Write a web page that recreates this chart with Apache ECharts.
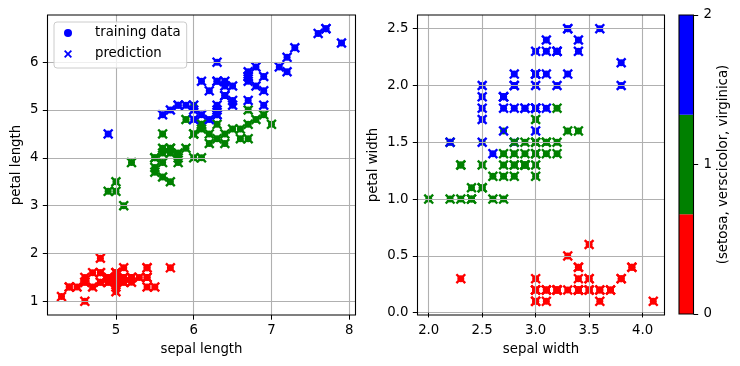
<!DOCTYPE html>
<html><head><meta charset="utf-8">
<script src="https://cdn.jsdelivr.net/npm/echarts@6/dist/echarts.min.js"></script>
<style>html,body{margin:0;padding:0;background:#fff}#c{width:740px;height:366px}</style>
</head><body><div id="c"></div><script>
const classNames = ['setosa', 'verscicolor', 'virginica'];
const classColors = ['#ff0000', '#008000', '#0000ff'];
// rows: [sepal length, sepal width, petal length, petal width, predicted class]
const virginicaEarly = [[6.3,2.8,5.1,1.5,2]];
const setosaRows = [
 [5.1,3.5,1.4,0.2,0],[4.9,3.0,1.4,0.2,0],[4.7,3.2,1.3,0.2,0],[4.6,3.1,1.5,0.2,0],[5.0,3.6,1.4,0.2,0],
 [5.4,3.9,1.7,0.4,0],[4.6,3.4,1.4,0.3,0],[5.0,3.4,1.5,0.2,0],[4.9,3.1,1.5,0.1,0],[5.4,3.7,1.5,0.2,0],
 [4.8,3.4,1.6,0.2,0],[4.8,3.0,1.4,0.1,0],[4.3,3.0,1.1,0.1,0],[5.4,3.9,1.3,0.4,0],[5.1,3.5,1.4,0.3,0],
 [5.7,3.8,1.7,0.3,0],[5.1,3.8,1.5,0.3,0],[5.4,3.4,1.7,0.2,0],[4.6,3.6,1.0,0.2,0],[5.1,3.3,1.7,0.5,0],
 [4.8,3.4,1.9,0.2,0],[5.0,3.0,1.6,0.2,0],[5.0,3.4,1.6,0.4,0],[5.2,3.5,1.5,0.2,0],[5.2,3.4,1.4,0.2,0],
 [4.7,3.2,1.6,0.2,0],[4.8,3.1,1.6,0.2,0],[5.4,3.4,1.5,0.4,0],[5.2,4.1,1.5,0.1,0],[4.9,3.1,1.5,0.2,0],
 [5.0,3.2,1.2,0.2,0],[5.5,3.5,1.3,0.2,0],[4.9,3.6,1.4,0.1,0],[4.4,3.0,1.3,0.2,0],[5.1,3.4,1.5,0.2,0],
 [5.0,3.5,1.3,0.3,0],[4.5,2.3,1.3,0.3,0],[4.4,3.2,1.3,0.2,0],[5.0,3.5,1.6,0.6,0],[4.8,3.0,1.4,0.3,0],
 [4.6,3.2,1.4,0.2,0],[5.3,3.7,1.5,0.2,0],[5.0,3.3,1.4,0.2,0]
];
const versicolorRows = [
 [7.0,3.2,4.7,1.4,1],[6.4,3.2,4.5,1.5,1],[6.9,3.1,4.9,1.5,1],[5.5,2.3,4.0,1.3,1],[6.5,2.8,4.6,1.5,1],
 [6.3,3.3,4.7,1.6,1],[4.9,2.4,3.3,1.0,1],[6.6,2.9,4.6,1.3,1],[5.2,2.7,3.9,1.4,1],[5.0,2.0,3.5,1.0,1],
 [5.9,3.0,4.2,1.5,1],[6.0,2.2,4.0,1.0,1],[6.1,2.9,4.7,1.4,1],[5.6,2.9,3.6,1.3,1],[6.7,3.1,4.4,1.4,1],
 [5.6,3.0,4.5,1.5,1],[5.8,2.7,4.1,1.0,1],[6.2,2.2,4.5,1.5,1],[5.6,2.5,3.9,1.1,1],[5.9,3.2,4.8,1.8,1],
 [6.1,2.8,4.0,1.3,1],[6.3,2.5,4.9,1.5,2],[6.1,2.8,4.7,1.2,1],[6.4,2.9,4.3,1.3,1],[6.6,3.0,4.4,1.4,1],
 [6.8,2.8,4.8,1.4,1],[6.7,3.0,5.0,1.7,1],[6.0,2.9,4.5,1.5,1],[5.7,2.6,3.5,1.0,1],[5.5,2.4,3.8,1.1,1],
 [5.5,2.4,3.7,1.0,1],[5.8,2.7,3.9,1.2,1],[6.0,2.7,5.1,1.6,2],[6.0,3.4,4.5,1.6,1],[6.7,3.1,4.7,1.5,1],
 [6.3,2.3,4.4,1.3,1],[5.6,3.0,4.1,1.3,1],[5.5,2.5,4.0,1.3,1],[6.1,3.0,4.6,1.4,1],[5.8,2.6,4.0,1.2,1],
 [5.0,2.3,3.3,1.0,1],[5.6,2.7,4.2,1.3,1],[5.7,3.0,4.2,1.2,1],[5.7,2.9,4.2,1.3,1],[6.2,2.9,4.3,1.3,1],
 [5.1,2.5,3.0,1.1,1],[5.7,2.8,4.1,1.3,1]
];
const virginicaRows = [
 [6.3,3.3,6.0,2.5,2],[5.8,2.7,5.1,1.9,2],[7.1,3.0,5.9,2.1,2],[6.3,2.9,5.6,1.8,2],[7.6,3.0,6.6,2.1,2],
 [4.9,2.5,4.5,1.7,2],[7.3,2.9,6.3,1.8,2],[6.7,2.5,5.8,1.8,2],[7.2,3.6,6.1,2.5,2],[6.5,3.2,5.1,2.0,2],
 [6.4,2.7,5.3,1.9,2],[6.8,3.0,5.5,2.1,2],[5.7,2.5,5.0,2.0,2],[6.4,3.2,5.3,2.3,2],[6.5,3.0,5.5,1.8,2],
 [7.7,3.8,6.7,2.2,2],[6.0,2.2,5.0,1.5,2],[6.9,3.2,5.7,2.3,2],[5.6,2.8,4.9,2.0,2],[7.7,2.8,6.7,2.0,2],
 [6.3,2.7,4.9,1.8,2],[6.7,3.3,5.7,2.1,2],[6.2,2.8,4.8,1.8,2],[6.1,3.0,4.9,1.8,2],[6.4,2.8,5.6,2.1,2],
 [7.2,3.0,5.8,1.6,2],[7.9,3.8,6.4,2.0,2],[6.1,2.6,5.6,1.4,2],[6.3,3.4,5.6,2.4,2],[6.4,3.1,5.5,1.8,2],
 [6.0,3.0,4.8,1.8,2],[6.9,3.1,5.4,2.1,2],[6.7,3.1,5.6,2.4,2],[6.9,3.1,5.1,2.3,2],[5.8,2.7,5.1,1.9,2],
 [6.8,3.2,5.9,2.3,2],[6.7,3.3,5.7,2.5,2],[6.7,3.0,5.2,2.3,2],[6.3,2.5,5.0,1.9,2],[6.5,3.0,5.2,2.0,2],
 [6.2,3.4,5.4,2.3,2],[5.9,3.0,5.1,1.8,2]
];
const xTicksLeft = [5, 6, 7, 8];
const yTicksLeft = [1, 2, 3, 4, 5, 6];
const xTicksRight = [2.0, 2.5, 3.0, 3.5, 4.0];
const yTicksRight = [0.0, 0.5, 1.0, 1.5, 2.0, 2.5];
const cbTicks = [0, 1, 2];
const cbBounds = [0, 2/3, 4/3, 2];

const samples = [];
virginicaEarly.forEach(r => samples.push({r, c: 2}));
setosaRows.forEach(r => samples.push({r, c: 0}));
versicolorRows.forEach(r => samples.push({r, c: 1}));
virginicaRows.forEach(r => samples.push({r, c: 2}));

const FONT = 'DejaVu Sans';
const FS = 13.3;
const XPATH = 'path://M0,1.6L1.6,0L5,3.4L8.4,0L10,1.6L6.6,5L10,8.4L8.4,10L5,6.6L1.6,10L0,8.4L3.4,5Z';

function dots(ix, iy, xi, yi) {
  return {
    name: 'training data', type: 'scatter', xAxisIndex: xi, yAxisIndex: yi,
    symbol: 'circle', symbolSize: 7, itemStyle: {color: classColors[2], opacity: 1},
    data: samples.map(s => ({value: [s.r[ix], s.r[iy]], itemStyle: {color: classColors[s.c]}})),
    emphasis: {disabled: true}, z: 2
  };
}
function crosses(ix, iy, xi, yi) {
  return {
    name: 'prediction', type: 'scatter', xAxisIndex: xi, yAxisIndex: yi,
    symbol: XPATH, symbolSize: 10.5, itemStyle: {color: classColors[2], opacity: 1},
    data: samples.map(s => ({value: [s.r[ix], s.r[iy]], itemStyle: {color: classColors[s.r[4]]}})),
    emphasis: {disabled: true}, z: 3
  };
}
function valAxis(gi, min, max, ticks, name, gap, fmt) {
  return {
    type: 'value', gridIndex: gi, min, max, z: 5,
    name, nameLocation: 'middle', nameGap: gap,
    nameTextStyle: {fontFamily: FONT, fontSize: FS, color: '#000'},
    axisLine: {show: false},
    axisTick: {show: true, length: 4.7, customValues: ticks, lineStyle: {color: '#000', width: 1}},
    axisLabel: {show: true, customValues: ticks, margin: 9, fontFamily: FONT, fontSize: FS, color: '#000',
      formatter: v => fmt(v)},
    splitLine: {show: true, lineStyle: {color: '#b0b0b0', width: 1.1}}
  };
}
const gridStyle = {show: true, borderColor: '#000', borderWidth: 1.1, backgroundColor: 'transparent', containLabel: false, z: 6};

const option = {
  animation: false,
  backgroundColor: '#fff',
  textStyle: {fontFamily: FONT},
  grid: [
    Object.assign({left: 47.5, top: 15, width: 308, height: 300}, gridStyle),
    Object.assign({left: 417.5, top: 15, width: 247, height: 300}, gridStyle),
    Object.assign({left: 679, top: 15, width: 14.5, height: 299}, gridStyle, {z: 10})
  ],
  xAxis: [
    valAxis(0, 4.12, 8.08, xTicksLeft, 'sepal length', 28, v => String(v)),
    valAxis(1, 1.895, 4.205, xTicksRight, 'sepal width', 28, v => v.toFixed(1)),
    {type: 'category', gridIndex: 2, data: [''], show: false}
  ],
  yAxis: [
    valAxis(0, 0.715, 6.985, yTicksLeft, 'petal length', 24, v => String(v)),
    valAxis(1, -0.02, 2.62, yTicksRight, 'petal width', 37, v => v.toFixed(1)),
    {type: 'value', gridIndex: 2, min: 0, max: 2, interval: 1, position: 'right', z: 11,
     name: '(' + classNames.join(', ') + ')', nameLocation: 'middle', nameGap: 24, nameRotate: 90,
     nameTextStyle: {fontFamily: FONT, fontSize: FS, color: '#000'},
     axisLine: {show: false},
     axisTick: {show: true, length: 4.7, inside: false, lineStyle: {color: '#000', width: 1}},
     axisLabel: {show: true, margin: 10, fontFamily: FONT, fontSize: FS, color: '#000',
       customValues: cbTicks},
     splitLine: {show: false}}
  ],
  legend: {
    show: true, orient: 'vertical', left: 54, top: 22,
    padding: [3, 6, 6, 10], itemGap: 5, itemWidth: 16, itemHeight: 8,
    backgroundColor: 'rgba(255,255,255,0.8)', borderColor: '#cccccc', borderWidth: 1, borderRadius: 3,
    textStyle: {fontFamily: FONT, fontSize: FS, color: '#000', lineHeight: 16, padding: [0, 0, 0, 14]},
    data: [{name: 'training data', icon: 'circle'}, {name: 'prediction', icon: XPATH}],
    selectedMode: false, z: 20
  },
  series: [
    dots(0, 2, 0, 0), crosses(0, 2, 0, 0),
    dots(1, 3, 1, 1), crosses(1, 3, 1, 1)
  ].concat(classColors.map((col, i) => ({
    name: 'cb' + i, type: 'bar', xAxisIndex: 2, yAxisIndex: 2, stack: 'cb', barWidth: '100%',
    itemStyle: {color: col}, emphasis: {disabled: true},
    data: [cbBounds[i + 1] - cbBounds[i]]
  })))
};
const chart = echarts.init(document.getElementById('c'), null, {renderer: 'canvas'});
chart.setOption(option);
</script></body></html>
